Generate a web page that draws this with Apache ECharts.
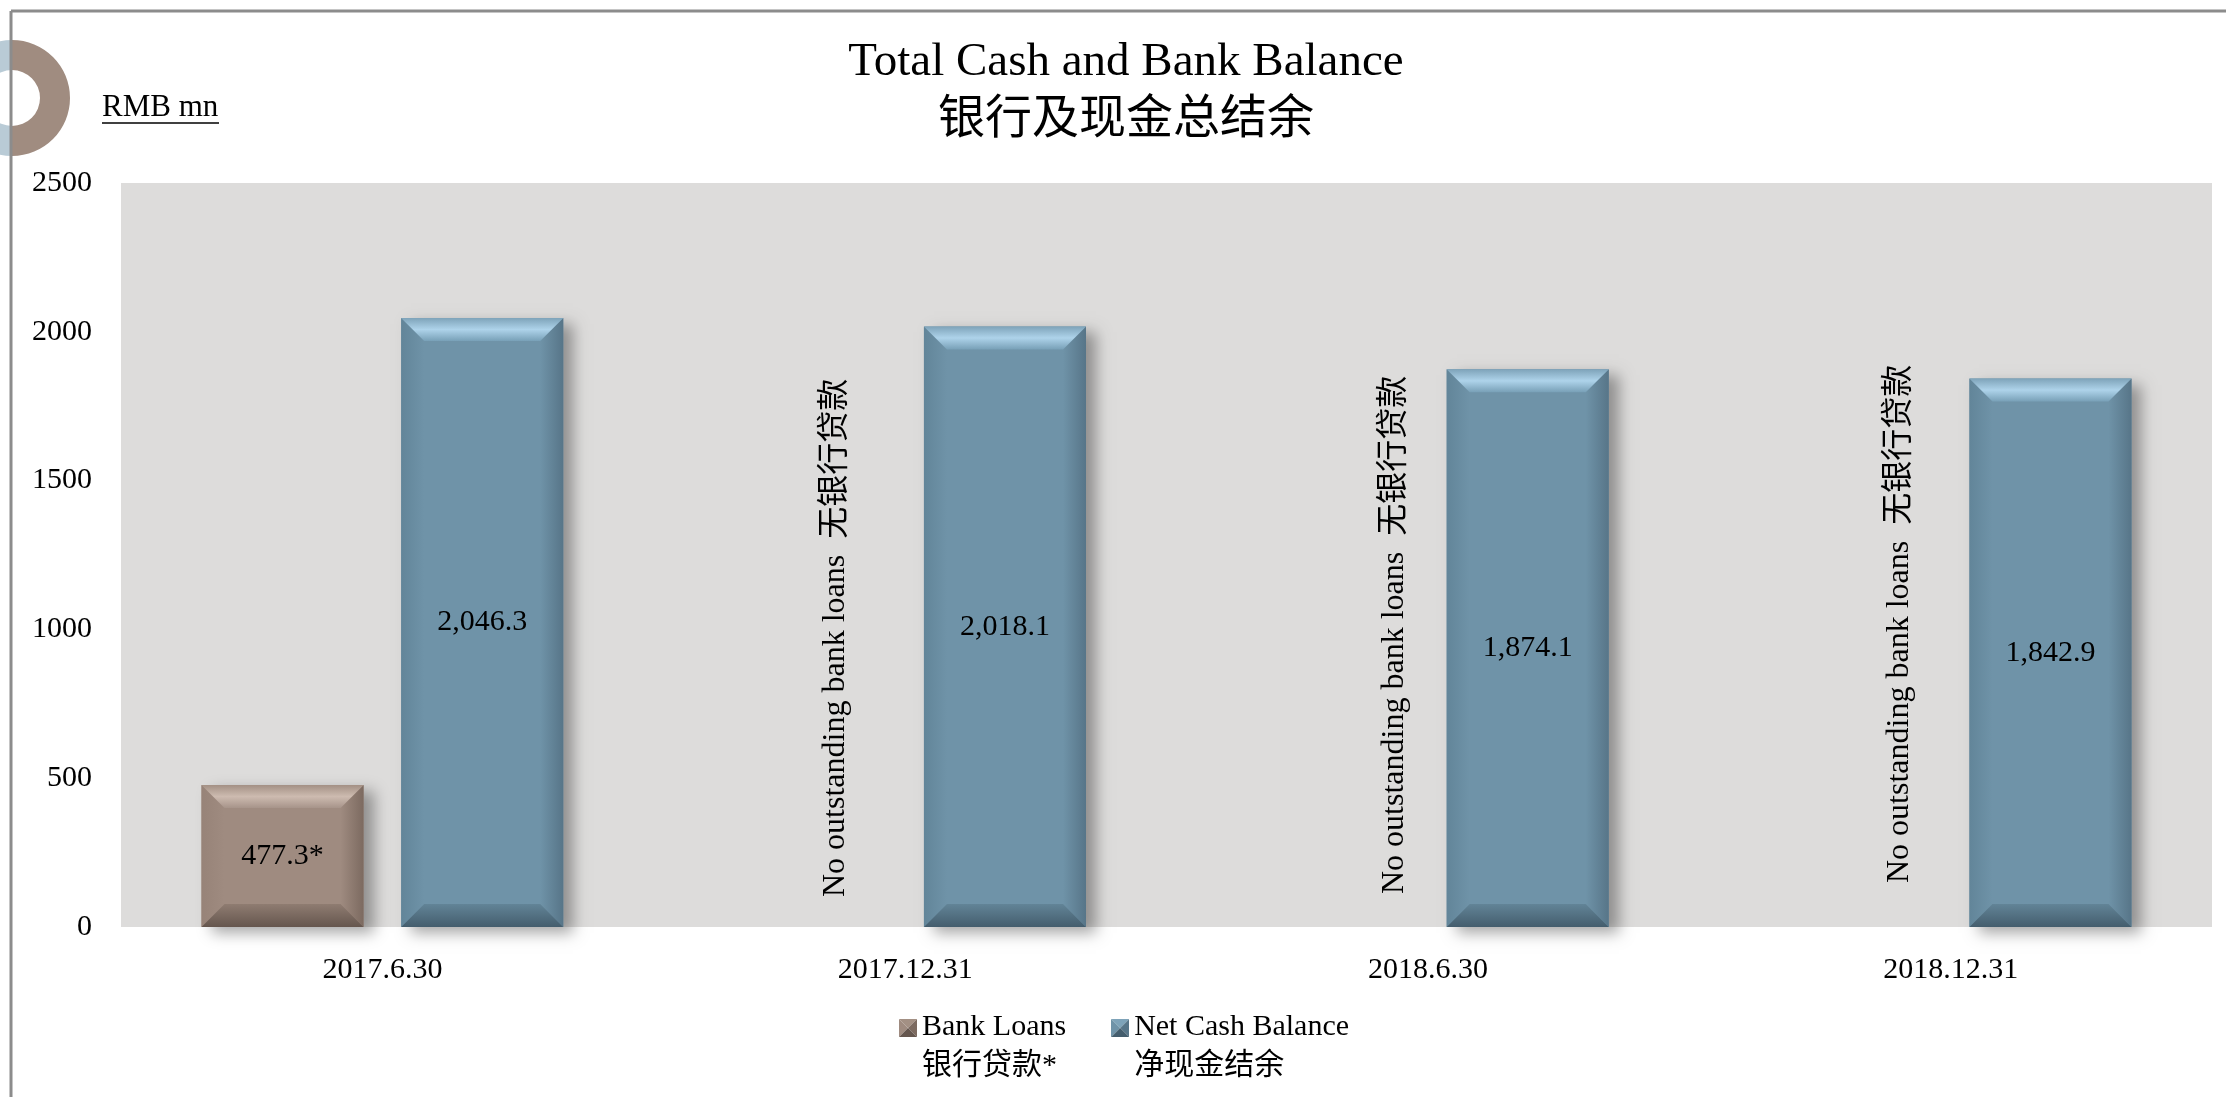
<!DOCTYPE html>
<html><head><meta charset="utf-8">
<script src="https://cdn.jsdelivr.net/npm/echarts@6/dist/echarts.min.js"></script>
<style>html,body{margin:0;padding:0;background:#fff}#c{width:2226px;height:1097px}</style>
</head><body><div id="c"></div>
<script>
// ---- data ----
const categories = ['2017.6.30', '2017.12.31', '2018.6.30', '2018.12.31'];
const bankLoans = [477.3, 0, 0, 0];
const netCash = [2046.3, 2018.1, 1874.1, 1842.9];
const yTicks = [0, 500, 1000, 1500, 2000, 2500];
const loanNotes = ['', 'No outstanding bank loans  无银行贷款', 'No outstanding bank loans  无银行贷款', 'No outstanding bank loans  无银行贷款'];
const seriesNames = ['Bank Loans\n银行贷款*', 'Net Cash Balance\n净现金结余'];
const valueSuffix = ['*', ''];
const titleLines = ['Total Cash and Bank Balance', '银行及现金总结余'];
const unitLabel = 'RMB mn';

// ---- styles ----
const FONT = "'Liberation Serif','Times New Roman','Noto Sans CJK SC',serif";
const noteOffsets = [[0, 0], [30, -30], [67, -33], [49, -44]];
const brownPal = {face:'#9f8b80', topOuter:'#a39084', topHi:'#cdbbb0', topInner:'#a7948a', botInner:'#8f7c71', botOuter:'#65564e', leftOuter:'#978378', rightOuter:'#7c6a60'};
const bluePal = {face:'#6f93a8', topOuter:'#7ea3b9', topHi:'#aed3ea', topInner:'#78a0b7', botInner:'#628497', botOuter:'#445d6d', leftOuter:'#628599', rightOuter:'#577588'};

function lg(x2, y2, stops) {
  return new echarts.graphic.LinearGradient(0, 0, x2, y2, stops.map((c, i) => ({offset: i / (stops.length - 1), color: c})));
}
function fmt(v) {
  return v.toLocaleString('en-US', {minimumFractionDigits: 1, maximumFractionDigits: 1});
}
function makeRender(side, pal, suffix, notes) {
  return function (params, api) {
    const idx = api.value(0), val = api.value(1);
    const band = api.size([1, 0])[0];
    const w = band * 0.31;
    const base = api.coord([idx, 0]);
    const cx = base[0] + side * band * 0.191;
    const children = [];
    if (!val) {
      const note = notes && notes[idx];
      if (note) {
        const off = noteOffsets[idx];
        children.push({type: 'text', x: cx + off[0], y: base[1] + off[1], rotation: Math.PI / 2,
          style: {text: note, fontSize: 32, fontFamily: FONT, fill: '#000', align: 'left', verticalAlign: 'middle'}});
      }
      return {type: 'group', children};
    }
    const top = api.coord([idx, val]);
    const x = cx - w / 2, y = top[1], h = base[1] - top[1];
    const b = Math.min(23, h / 2, w / 2);
    children.push({type: 'rect', shape: {x, y, width: w, height: h},
      style: {fill: pal.face, shadowBlur: 14, shadowOffsetX: 10, shadowOffsetY: 6, shadowColor: 'rgba(0,0,0,0.35)'}});
    children.push({type: 'polygon', shape: {points: [[x, y], [x + b, y + b], [x + b, y + h - b], [x, y + h]]},
      style: {fill: lg(1, 0, [pal.leftOuter, pal.face])}});
    children.push({type: 'polygon', shape: {points: [[x + w, y], [x + w, y + h], [x + w - b, y + h - b], [x + w - b, y + b]]},
      style: {fill: lg(1, 0, [pal.face, pal.rightOuter])}});
    children.push({type: 'polygon', shape: {points: [[x, y], [x + w, y], [x + w - b, y + b], [x + b, y + b]]},
      style: {fill: lg(0, 1, [pal.topOuter, pal.topHi, pal.topInner])}});
    children.push({type: 'polygon', shape: {points: [[x + b, y + h - b], [x + w - b, y + h - b], [x + w, y + h], [x, y + h]]},
      style: {fill: lg(0, 1, [pal.botInner, pal.botOuter])}});
    children.push({type: 'text', x: cx, y: y + h / 2,
      style: {text: fmt(val) + suffix, fontSize: 30, fontFamily: FONT, fill: '#000', align: 'center', verticalAlign: 'middle'}});
    return {type: 'group', children};
  };
}
// legend icon: beveled square drawn at the top of a taller transparent box,
// so that it lines up with the first line of the two-line legend text
function iconFor(pal) {
  const c = document.createElement('canvas');
  c.width = 18; c.height = 56;
  const g = c.getContext('2d');
  const tri = (pts, col) => { g.beginPath(); g.moveTo(pts[0][0], pts[0][1]); pts.slice(1).forEach(p => g.lineTo(p[0], p[1])); g.closePath(); g.fillStyle = col; g.fill(); };
  tri([[0, 0], [18, 0], [9, 9]], pal.topOuter);
  tri([[0, 0], [9, 9], [0, 18]], pal.face);
  tri([[18, 0], [18, 18], [9, 9]], pal.rightOuter);
  tri([[0, 18], [9, 9], [18, 18]], pal.botOuter);
  return 'image://' + c.toDataURL();
}

const chart = echarts.init(document.getElementById('c'), null, {renderer: 'canvas'});
chart.setOption({
  backgroundColor: '#ffffff',
  animation: false,
  title: {
    text: titleLines.join('\n'), left: 1126, top: 34, padding: 0,
    textAlign: 'center', textVerticalAlign: 'top',
    textStyle: {fontFamily: FONT, fontSize: 47, fontWeight: 'normal', lineHeight: 58, color: '#000'}
  },
  legend: {
    left: 899, top: 1008, padding: 0, itemWidth: 18, itemHeight: 56, itemGap: 45, selectedMode: false,
    textStyle: {fontFamily: FONT, fontSize: 30, lineHeight: 39, color: '#000'},
    data: [{name: seriesNames[0], icon: iconFor(brownPal)}, {name: seriesNames[1], icon: iconFor(bluePal)}]
  },
  grid: {left: 121, right: 14, top: 183, bottom: 170, show: true, backgroundColor: '#dddcdb', borderWidth: 0, containLabel: false},
  xAxis: {
    type: 'category', data: categories,
    axisLine: {show: false}, axisTick: {show: false}, splitLine: {show: false},
    axisLabel: {fontFamily: FONT, fontSize: 30, color: '#000', margin: 28}
  },
  yAxis: {
    type: 'value', min: yTicks[0], max: yTicks[yTicks.length - 1], interval: yTicks[1] - yTicks[0],
    axisLine: {show: false}, axisTick: {show: false}, splitLine: {show: false},
    axisLabel: {fontFamily: FONT, fontSize: 30, color: '#000', margin: 29, formatter: v => String(v)}
  },
  graphic: [
    {type: 'sector', shape: {cx: 12, cy: 98, r: 58, r0: 28, startAngle: Math.PI / 2, endAngle: Math.PI * 1.5}, style: {fill: '#b9cbd6'}, silent: true},
    {type: 'sector', shape: {cx: 12, cy: 98, r: 58, r0: 28, startAngle: -Math.PI / 2, endAngle: Math.PI / 2}, style: {fill: '#a08c80'}, silent: true},
    {type: 'line', shape: {x1: 11, y1: 11, x2: 2226, y2: 11}, style: {stroke: '#8c8c8c', lineWidth: 3}, silent: true},
    {type: 'line', shape: {x1: 11, y1: 11, x2: 11, y2: 1097}, style: {stroke: '#8c8c8c', lineWidth: 3}, silent: true},
    {type: 'text', x: 102, y: 108, style: {text: unitLabel, fontSize: 31, fontFamily: FONT, fill: '#000', align: 'left', verticalAlign: 'middle'}, silent: true},
    {type: 'line', shape: {x1: 102, y1: 123, x2: 219, y2: 123}, style: {stroke: '#000', lineWidth: 1.5}, silent: true}
  ],
  series: [
    {type: 'custom', name: seriesNames[0], renderItem: makeRender(-1, brownPal, valueSuffix[0], loanNotes),
      data: categories.map((c, i) => [i, bankLoans[i]]), encode: {x: 0, y: 1}, itemStyle: {color: brownPal.face}},
    {type: 'custom', name: seriesNames[1], renderItem: makeRender(1, bluePal, valueSuffix[1], null),
      data: categories.map((c, i) => [i, netCash[i]]), encode: {x: 0, y: 1}, itemStyle: {color: bluePal.face}}
  ]
});
</script>
</body></html>
